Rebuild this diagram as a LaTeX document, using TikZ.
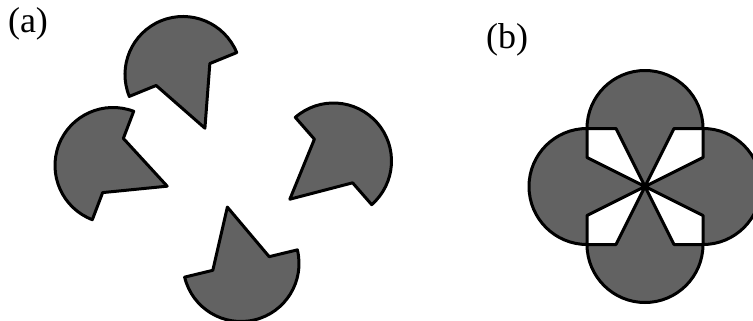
\documentclass[tikz,border=0pt]{standalone}
\usepackage{fontspec}
\setmainfont{Liberation Serif}
\definecolor{pacgray}{RGB}{98,98,98}
\tikzset{
  pacpiece/.style={fill=pacgray, draw=black, line width=3pt, line join=round},
  lbl/.style={font=\fontsize{36}{36}\selectfont, inner sep=0pt}
}
\newcommand{\pacshape}[3]{%
  \begin{scope}[shift={(#1,#2)}, rotate=#3]
    \draw[pacpiece] (-58,0) arc[start angle=180, end angle=0, radius=58]
      -- (29,0) -- (0,-58) -- (-29,0) -- cycle;
  \end{scope}}
\begin{document}
\begin{tikzpicture}[x=1pt,y=1pt]
  \useasboundingbox (0,0) rectangle (753,-321);
  \clip (0,0) rectangle (753,-321);
  \node[lbl] (la) at (28,-24) {(a)};
  \node[lbl] (lb) at (507,-40) {(b)};
  % (a)
  \pacshape{183}{-74.5}{22.2}
  \pacshape{113}{-165.5}{69.1}
  \pacshape{333.5}{-161}{-48.8}
  \pacshape{241}{-263.5}{193.6}
  % (b)
  \pacshape{645}{-128.5}{0}
  \pacshape{587}{-186.5}{90}
  \pacshape{645}{-244.5}{180}
  \pacshape{703}{-186.5}{-90}
\end{tikzpicture}
\end{document}
